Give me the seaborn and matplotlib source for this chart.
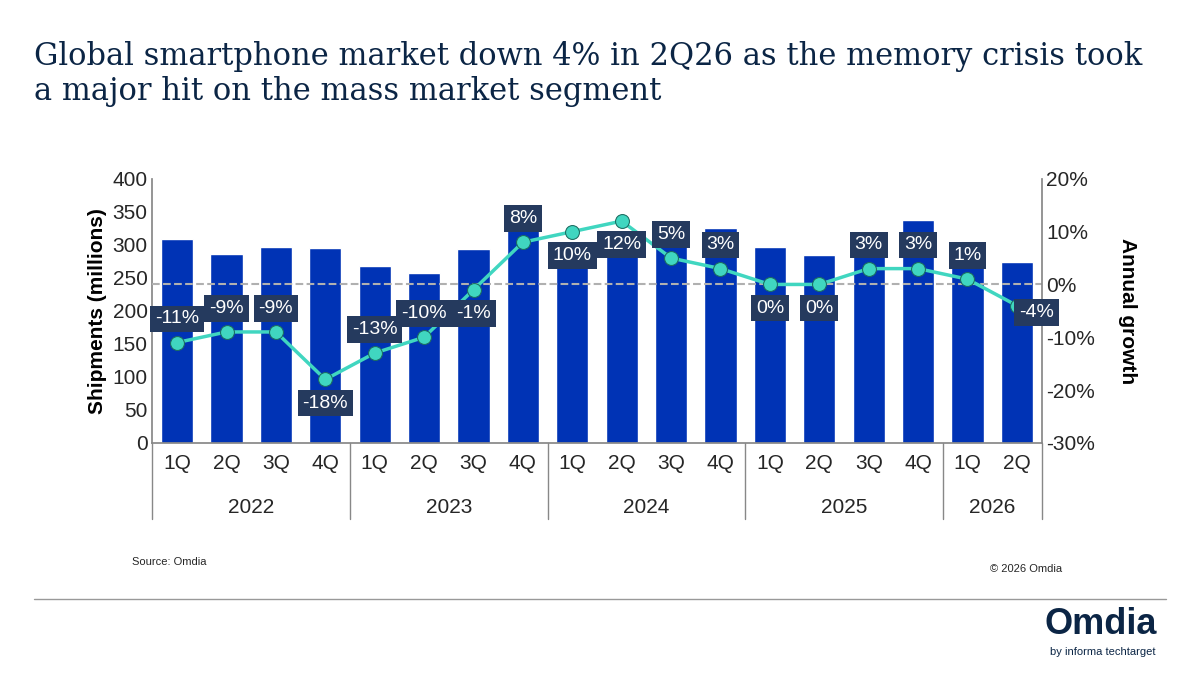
import numpy as np
import pandas as pd
import seaborn as sns
from matplotlib import pyplot as plt
from matplotlib.lines import Line2D

quarters = ["1Q", "2Q", "3Q", "4Q"] * 4 + ["1Q", "2Q"]
years = ["2022", "2023", "2024", "2025", "2026"]
shipments = [309, 286, 297, 295, 268, 258, 294, 325, 296, 286, 316, 326,
             297, 285, 305, 338, 297, 274]
growth = [-11, -9, -9, -18, -13, -10, -1, 8, 10, 12, 5, 3, 0, 0, 3, 3, 1, -4]
# label placed above (1) or below (-1) the point
label_side = [1, 1, 1, -1, 1, 1, -1, 1, -1, -1, 1, 1, -1, -1, 1, 1, 1, 0]

navy = "#0b2545"
bar_blue = "#0033b5"
teal = "#40d6c0"

sns.set_theme(style="white")
plt.rcParams['font.family'] = ['Liberation Sans', 'DejaVu Sans']

df = pd.DataFrame({"x": range(len(shipments)), "ship": shipments})

fig = plt.figure(figsize=(12, 6.75), dpi=100)
ax = fig.add_axes([0.127, 0.344, 0.741, 0.391])
sns.barplot(data=df, x="x", y="ship", color=bar_blue, width=0.65,
            saturation=1, ax=ax)
ax.set_ylim(0, 400)
ax.set_yticks(range(0, 401, 50))
ax.tick_params(axis="y", labelsize=15, length=0)
ax.set_ylabel("Shipments (millions)", fontsize=15, fontweight="bold", color="black")
ax.set_xlabel("")
ax.set_xticks(range(len(quarters)))
ax.set_xticklabels(quarters, fontsize=15)
ax.tick_params(axis="x", length=0, pad=8)
ax.set_xlim(-0.5, len(quarters) - 0.5)
for s in ["top", "right"]:
    ax.spines[s].set_visible(False)
for s in ["left", "bottom"]:
    ax.spines[s].set_color("#888888")

ax2 = ax.twinx()
ax2.set_ylim(-30, 20)
ax2.set_yticks(range(-30, 21, 10))
ax2.set_yticklabels([f"{v}%" for v in range(-30, 21, 10)], fontsize=15)
ax2.tick_params(axis="y", length=0)
ax2.set_ylabel("Annual growth", fontsize=15, fontweight="bold", color="black",
               rotation=270, labelpad=30)
ax2.axhline(0, color="#b0b0b0", ls="--", lw=1.5, zorder=1)
for s in ["top", "left", "bottom"]:
    ax2.spines[s].set_visible(False)
ax2.spines["right"].set_color("#888888")
sns.lineplot(x=list(range(len(growth))), y=growth, ax=ax2, color=teal, lw=2.5,
             marker="o", markersize=10, markerfacecolor=teal,
             markeredgecolor="#1b6b60", zorder=3)
for i, (g, side) in enumerate(zip(growth, label_side)):
    off = (0, 17 * side) if side else (14, -5)
    ax2.annotate(f"{g}%", (i, g), xytext=off, textcoords="offset points",
                 ha="center", va="center", fontsize=14, color="white",
                 bbox=dict(boxstyle="square,pad=0.25", fc="#253a5e", ec="none"),
                 zorder=5)

# year group labels and separators
trans = ax.get_xaxis_transform()
bounds = [-0.5, 3.5, 7.5, 11.5, 15.5, 17.5]
for b in bounds:
    ax.add_line(Line2D([b, b], [0, -0.29], transform=trans, color="#888888",
                       lw=1, clip_on=False))
for j, yr in enumerate(years):
    ax.text((bounds[j] + bounds[j + 1]) / 2, -0.245, yr, transform=trans,
            ha="center", va="center", fontsize=15)

fig.text(0.028, 0.94, "Global smartphone market down 4% in 2Q26 as the memory crisis took\n"
         "a major hit on the mass market segment", fontsize=22, color=navy,
         family="DejaVu Serif", va="top", linespacing=1.2)
fig.text(0.11, 0.163, "Source: Omdia", fontsize=8)
fig.text(0.825, 0.152, "© 2026 Omdia", fontsize=8)
fig.add_artist(Line2D([0.028, 0.972], [0.113, 0.113], color="#999999", lw=1))
fig.text(0.87, 0.06, "Omdia", fontsize=26, fontweight="bold", color=navy)
fig.text(0.875, 0.03, "by informa techtarget", fontsize=8, color=navy)

fig.savefig("out.png", dpi=100)
